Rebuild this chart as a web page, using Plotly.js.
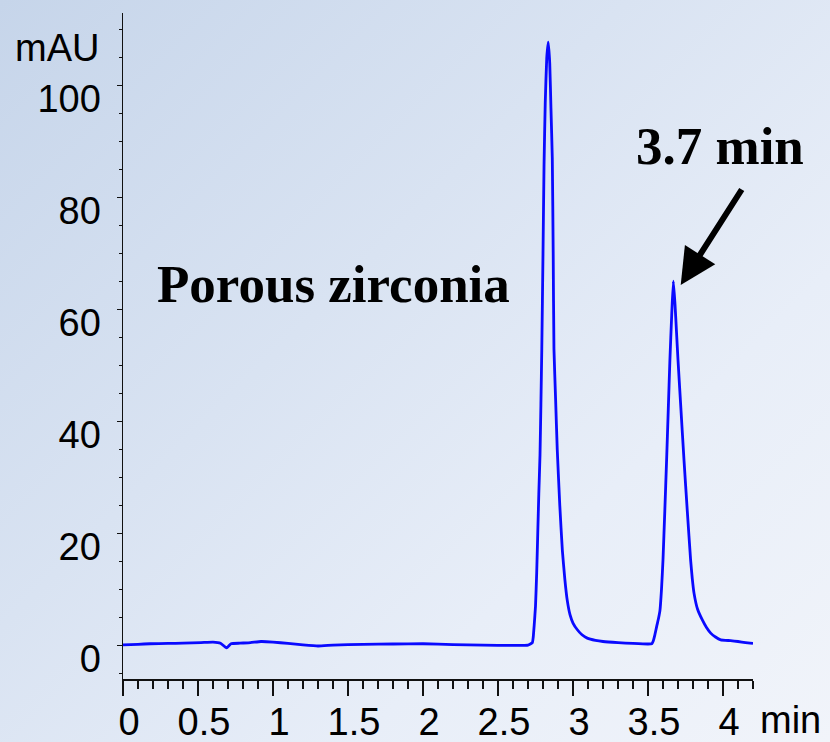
<!DOCTYPE html>
<html>
<head>
<meta charset="utf-8">
<script src="https://cdn.plot.ly/plotly-3.0.1.min.js"></script>
<style>
  html, body { margin: 0; padding: 0; }
  body {
    width: 830px; height: 742px; overflow: hidden;
    background: linear-gradient(135deg, #c6d5ea 0%, #d9e3f2 40%, #e8eef8 70%, #f1f4fa 100%);
  }
  #chart { width: 830px; height: 742px; }
</style>
</head>
<body>
<div id="chart"></div>
<script>
// Retention time (min)
const timeMin = [
  0, 0.1, 0.18, 0.3, 0.4, 0.52, 0.6, 0.65, 0.69, 0.72, 0.78, 0.85, 0.92, 1.0, 1.1, 1.2, 1.3, 1.4, 1.6, 1.8, 2.0, 2.2, 2.4, 2.6, 2.7,
  2.729, 2.735, 2.741, 2.750, 2.758, 2.765, 2.772, 2.780, 2.786, 2.792, 2.800, 2.807, 2.815, 2.825, 2.835,
  2.845, 2.853, 2.862, 2.868, 2.873, 2.884, 2.895, 2.912, 2.929, 2.945, 2.962, 2.980, 3.000, 3.029, 3.06, 3.095,
  3.15, 3.20, 3.30, 3.40, 3.50,
  3.525, 3.535, 3.545, 3.558, 3.570, 3.580, 3.590, 3.600, 3.612, 3.624, 3.635, 3.646, 3.658, 3.669,
  3.680, 3.690, 3.700, 3.720, 3.740, 3.762, 3.784, 3.795, 3.807, 3.830, 3.863, 3.890, 3.918, 3.950, 3.985,
  4.05, 4.1, 4.15, 4.2
];
// Absorbance (mAU)
const absorbance = [
  0.1, 0.2, 0.3, 0.35, 0.4, 0.5, 0.6, 0.4, -0.45, 0.3, 0.4, 0.5, 0.7, 0.6, 0.35, 0.1, -0.1, 0.05, 0.2, 0.25, 0.3, 0.15, 0.05, 0.0, 0.05,
  0.5, 1.5, 3.5, 7, 13, 20, 27, 34, 43, 53, 70, 86, 97, 105, 107.8,
  104, 96, 87, 70, 53, 44, 35, 25, 17, 12, 8, 5.5, 4, 2.8, 1.9, 1.3,
  0.9, 0.7, 0.5, 0.35, 0.25,
  0.3, 0.8, 1.8, 3.4, 4.8, 6.3, 10, 15.3, 24, 33.1, 42, 51, 59, 65.1,
  61, 56, 51, 42, 33.1, 24, 15.3, 12, 9.3, 6.5, 4.5, 3.2, 2.2, 1.5, 1.0,
  0.85, 0.7, 0.5, 0.35
];
const xTickVals = [0, 0.5, 1, 1.5, 2, 2.5, 3, 3.5, 4];
const xTickText = ['0', '0.5', '1', '1.5', '2', '2.5', '3', '3.5', '4'];
const yTickVals = [0, 20, 40, 60, 80, 100];
const yTickText = ['0', '20', '40', '60', '80', '100'];
const xUnit = 'min';
const yUnit = 'mAU';
const sampleLabel = 'Porous zirconia';
const peakLabel = '3.7 min';
const peakTime = 3.718;
const peakValue = 64.4;

const sans = 'Liberation Sans, Arial, sans-serif';
const serif = 'Liberation Serif, Times New Roman, serif';

const trace = {
  x: timeMin, y: absorbance, type: 'scatter', mode: 'lines',
  line: { color: '#0a0aff', width: 2.8, shape: 'spline', smoothing: 0.4 },
  hoverinfo: 'skip'
};

const layout = {
  width: 830, height: 742,
  margin: { l: 123, r: 77, t: 13, b: 63 },
  paper_bgcolor: 'rgba(0,0,0,0)',
  plot_bgcolor: 'rgba(0,0,0,0)',
  showlegend: false,
  font: { family: sans, color: '#000' },
  xaxis: {
    range: [0, 4.2], showgrid: false, zeroline: false,
    showline: true, linecolor: '#111', linewidth: 1.5,
    tickvals: xTickVals, ticktext: xTickText,
    ticks: 'outside', ticklen: 15, tickwidth: 1.3, tickcolor: '#111',
    tickfont: { size: 38, family: sans, color: '#000' },
    ticklabelshift: 6, ticklabelstandoff: -6,
    minor: { dtick: 0.1, tick0: 0, ticks: 'outside', ticklen: 8, tickwidth: 1.1, tickcolor: '#111', showgrid: false }
  },
  yaxis: {
    range: [-6, 113], showgrid: false, zeroline: false,
    showline: true, linecolor: '#111', linewidth: 1.5,
    tickvals: yTickVals, ticktext: yTickText,
    ticks: 'outside', ticklen: 5, tickwidth: 1.3, tickcolor: '#111',
    tickfont: { size: 38, family: sans, color: '#000' },
    ticklabelshift: 13, ticklabelstandoff: 8,
    minor: { dtick: 5, tick0: 0, ticks: 'outside', ticklen: 3, tickwidth: 1.1, tickcolor: '#111', showgrid: false }
  },
  annotations: [
    { text: yUnit, xref: 'paper', yref: 'paper', x: -0.105, y: 0.947, xanchor: 'center', yanchor: 'middle',
      showarrow: false, font: { size: 38, family: sans, color: '#000' } },
    { text: xUnit, xref: 'paper', yref: 'paper', x: 1.06, y: -0.062, xanchor: 'center', yanchor: 'middle',
      showarrow: false, font: { size: 38, family: sans, color: '#000' } },
    { text: '<b>' + sampleLabel + '</b>', xref: 'x', yref: 'y', x: 1.40, y: 64.6, xanchor: 'center', yanchor: 'middle',
      showarrow: false, font: { size: 53, family: serif, color: '#000' } },
    { text: '<b>' + peakLabel + '</b>', xref: 'x', yref: 'y', x: 3.978, y: 89.2, xanchor: 'center', yanchor: 'middle',
      showarrow: false, font: { size: 53, family: serif, color: '#000' } },
    { text: '', xref: 'x', yref: 'y', x: peakTime, y: peakValue, axref: 'pixel', ayref: 'pixel',
      ax: 62, ay: -97, showarrow: true, arrowhead: 2, arrowsize: 1.2, arrowwidth: 6, arrowcolor: '#000', standoff: 0 }
  ]
};

Plotly.newPlot('chart', [trace], layout, { displayModeBar: false, staticPlot: true });
</script>
</body>
</html>
